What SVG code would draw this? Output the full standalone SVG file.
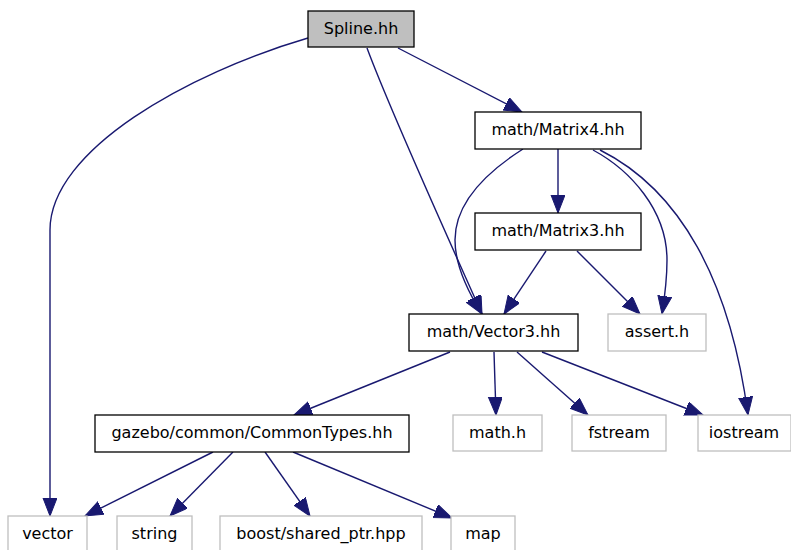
<svg xmlns="http://www.w3.org/2000/svg" width="791" height="550" viewBox="0 0 791 550">
<style>
  .node rect { fill: #ffffff; stroke: #000000; stroke-width: 1.3; }
  .node.ext rect { stroke: #bfbfbf; }
  .node.root rect { fill: #bfbfbf; }
  .node text { font-family: "DejaVu Sans", sans-serif; font-size: 16px; fill: #000000; text-anchor: middle; }
  .edges path { fill: none; stroke: #191970; stroke-width: 1.4; marker-end: url(#arrow); }
</style>
<defs>
  <marker id="arrow" markerUnits="userSpaceOnUse" markerWidth="20" markerHeight="16" refX="18" refY="7" orient="auto">
    <path d="M0,0 L18,7 L0,14 z" fill="#191970" stroke="#191970" stroke-width="1"/>
  </marker>
</defs>
<rect x="0" y="0" width="791" height="550" fill="#ffffff"/>

<g id="edges" class="edges">
  <path d="M308,38 C188,73 50,150 50,230 L50,516"/>
  <path d="M367,48 C390,110 440,220 482,314"/>
  <path d="M398,48 L522,112"/>
  <path d="M523,149 C490,170 455,200 455,240 C455,268 470,295 482,314"/>
  <path d="M558,149 L558,213"/>
  <path d="M593,150 C630,170 667,210 667,260 C667,280 665,295 662,314"/>
  <path d="M600,150 C680,190 730,280 748,415"/>
  <path d="M546,251 L504,314"/>
  <path d="M577,251 L640,314"/>
  <path d="M450,352 L294,415"/>
  <path d="M494,352 L496,415"/>
  <path d="M517,352 L588,415"/>
  <path d="M542,352 L703,415"/>
  <path d="M213,452 L85,516"/>
  <path d="M233,452 L170,516"/>
  <path d="M265,452 L310,516"/>
  <path d="M293,452 L452,518"/>
</g>

<g id="node-spline" class="node root">
  <rect x="308" y="11" width="106" height="36"/>
  <text x="361" y="34">Spline.hh</text>
</g>
<g id="node-matrix4" class="node">
  <rect x="475" y="112" width="166" height="37"/>
  <text x="558" y="135">math/Matrix4.hh</text>
</g>
<g id="node-matrix3" class="node">
  <rect x="475" y="213" width="166" height="37"/>
  <text x="558" y="236">math/Matrix3.hh</text>
</g>
<g id="node-vector3" class="node">
  <rect x="409" y="314" width="169" height="37"/>
  <text x="493.5" y="337">math/Vector3.hh</text>
</g>
<g id="node-assert" class="node ext">
  <rect x="608" y="314" width="98" height="37"/>
  <text x="657" y="337">assert.h</text>
</g>
<g id="node-commontypes" class="node">
  <rect x="95" y="415" width="314" height="37"/>
  <text x="252" y="438">gazebo/common/CommonTypes.hh</text>
</g>
<g id="node-mathh" class="node ext">
  <rect x="453" y="415" width="89" height="36"/>
  <text x="497.5" y="438">math.h</text>
</g>
<g id="node-fstream" class="node ext">
  <rect x="572" y="415" width="94" height="36"/>
  <text x="619" y="438">fstream</text>
</g>
<g id="node-iostream" class="node ext">
  <rect x="698" y="415" width="93" height="36"/>
  <text x="744" y="438">iostream</text>
</g>
<g id="node-vector" class="node ext">
  <rect x="8" y="516" width="79" height="37"/>
  <text x="47.5" y="539">vector</text>
</g>
<g id="node-string" class="node ext">
  <rect x="117" y="516" width="75" height="37"/>
  <text x="154.5" y="539">string</text>
</g>
<g id="node-boost" class="node ext">
  <rect x="220" y="516" width="202" height="37"/>
  <text x="321" y="539">boost/shared_ptr.hpp</text>
</g>
<g id="node-map" class="node ext">
  <rect x="451" y="516" width="64" height="37"/>
  <text x="483" y="539">map</text>
</g>
</svg>
